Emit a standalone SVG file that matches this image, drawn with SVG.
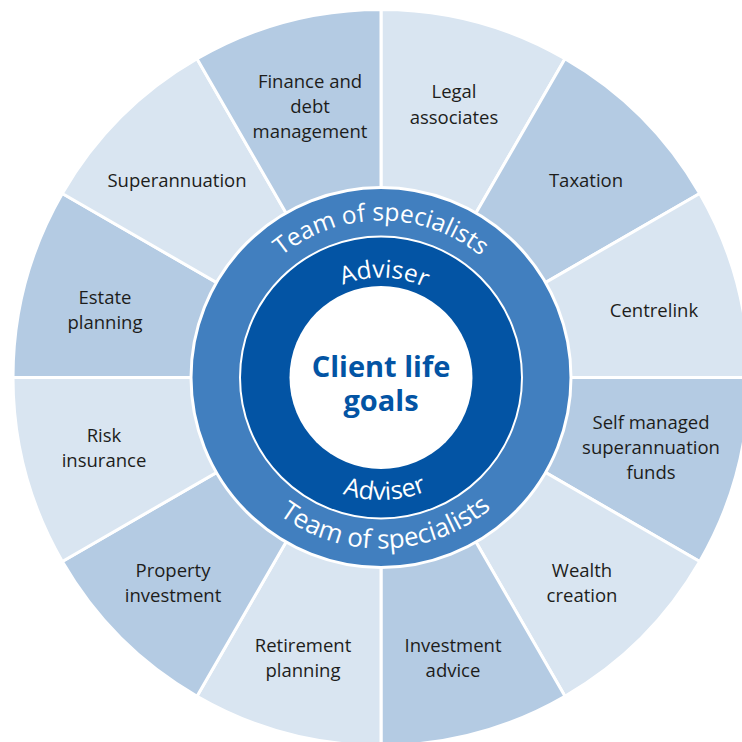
<svg xmlns="http://www.w3.org/2000/svg" width="742" height="742" viewBox="0 0 742 742">
  <style>
    .light { fill: #d9e5f1; stroke: #ffffff; stroke-width: 3; stroke-linejoin: round; }
    .mid { fill: #b4cbe3; stroke: #ffffff; stroke-width: 3; stroke-linejoin: round; }
    .lbl { font-family: "Open Sans", "Noto Sans", sans-serif; font-size: 18.5px; fill: #1d1d1b; text-anchor: middle; }
    .ring { font-family: "Open Sans", "Noto Sans", sans-serif; fill: #ffffff; }
    .goal { font-family: "Open Sans", "Noto Sans", sans-serif; font-weight: 700; font-size: 29px; fill: #0354a4; text-anchor: middle; }
  </style>
  <defs>
    <path id="teamTop" d="M 224 377.5 A 157 157 0 0 1 538 377.5"/>
    <path id="advTop" d="M 281 377.5 A 100 100 0 0 1 481 377.5"/>
    <path id="teamBot" d="M 210 377.5 A 171 171 0 0 0 552 377.5"/>
    <path id="advBot" d="M 258.5 377.5 A 122.5 122.5 0 0 0 503.5 377.5"/>
  </defs>
  <rect width="742" height="742" fill="#ffffff"/>

  <!-- outer specialist areas, clockwise from 12 o'clock -->
  <g id="legal">
    <path class="light" d="M381 377.5 L381 9.5 A368 368 0 0 1 565 58.8 Z"/>
    <text class="lbl" x="454" y="98">Legal</text>
    <text class="lbl" x="454" y="124">associates</text>
  </g>
  <g id="taxation">
    <path class="mid" d="M381 377.5 L565 58.8 A368 368 0 0 1 699.7 193.5 Z"/>
    <text class="lbl" x="586" y="187">Taxation</text>
  </g>
  <g id="centrelink">
    <path class="light" d="M381 377.5 L699.7 193.5 A368 368 0 0 1 749 377.5 Z"/>
    <text class="lbl" x="654" y="317">Centrelink</text>
  </g>
  <g id="smsf">
    <path class="mid" d="M381 377.5 L749 377.5 A368 368 0 0 1 699.7 561.5 Z"/>
    <text class="lbl" x="651" y="429">Self managed</text>
    <text class="lbl" x="651" y="454">superannuation</text>
    <text class="lbl" x="651" y="479">funds</text>
  </g>
  <g id="wealth">
    <path class="light" d="M381 377.5 L699.7 561.5 A368 368 0 0 1 565 696.2 Z"/>
    <text class="lbl" x="582" y="577">Wealth</text>
    <text class="lbl" x="582" y="602">creation</text>
  </g>
  <g id="investment">
    <path class="mid" d="M381 377.5 L565 696.2 A368 368 0 0 1 381 745.5 Z"/>
    <text class="lbl" x="453" y="652">Investment</text>
    <text class="lbl" x="453" y="677">advice</text>
  </g>
  <g id="retirement">
    <path class="light" d="M381 377.5 L381 745.5 A368 368 0 0 1 197 696.2 Z"/>
    <text class="lbl" x="303" y="652">Retirement</text>
    <text class="lbl" x="303" y="677">planning</text>
  </g>
  <g id="property">
    <path class="mid" d="M381 377.5 L197 696.2 A368 368 0 0 1 62.3 561.5 Z"/>
    <text class="lbl" x="173" y="577">Property</text>
    <text class="lbl" x="173" y="602">investment</text>
  </g>
  <g id="risk">
    <path class="light" d="M381 377.5 L62.3 561.5 A368 368 0 0 1 13 377.5 Z"/>
    <text class="lbl" x="104" y="442">Risk</text>
    <text class="lbl" x="104" y="467">insurance</text>
  </g>
  <g id="estate">
    <path class="mid" d="M381 377.5 L13 377.5 A368 368 0 0 1 62.3 193.5 Z"/>
    <text class="lbl" x="105" y="304">Estate</text>
    <text class="lbl" x="105" y="329">planning</text>
  </g>
  <g id="superannuation">
    <path class="light" d="M381 377.5 L62.3 193.5 A368 368 0 0 1 197 58.8 Z"/>
    <text class="lbl" x="177" y="187">Superannuation</text>
  </g>
  <g id="finance">
    <path class="mid" d="M381 377.5 L197 58.8 A368 368 0 0 1 381 9.5 Z"/>
    <text class="lbl" x="310" y="88">Finance and</text>
    <text class="lbl" x="310" y="113">debt</text>
    <text class="lbl" x="310" y="138">management</text>
  </g>

  <!-- team of specialists ring -->
  <g id="team">
    <circle cx="381" cy="377.5" r="190" fill="#417fbf" stroke="#ffffff" stroke-width="3"/>
    <text class="ring" font-size="24.5"><textPath href="#teamTop" startOffset="50%" text-anchor="middle">Team of specialists</textPath></text>
    <text class="ring" font-size="26"><textPath href="#teamBot" startOffset="51%" text-anchor="middle">Team of specialists</textPath></text>
  </g>

  <!-- adviser ring -->
  <g id="adviser">
    <circle cx="381" cy="377.5" r="141" fill="#0354a4" stroke="#ffffff" stroke-width="2"/>
    <text class="ring" font-size="24.5"><textPath href="#advTop" startOffset="51%" text-anchor="middle">Adviser</textPath></text>
    <text class="ring" font-size="25"><textPath href="#advBot" startOffset="51%" text-anchor="middle">Adviser</textPath></text>
  </g>

  <!-- centre -->
  <g id="client">
    <circle cx="381" cy="377.5" r="91.5" fill="#ffffff"/>
    <text class="goal" x="381" y="377">Client life</text>
    <text class="goal" x="381" y="411">goals</text>
  </g>
</svg>
